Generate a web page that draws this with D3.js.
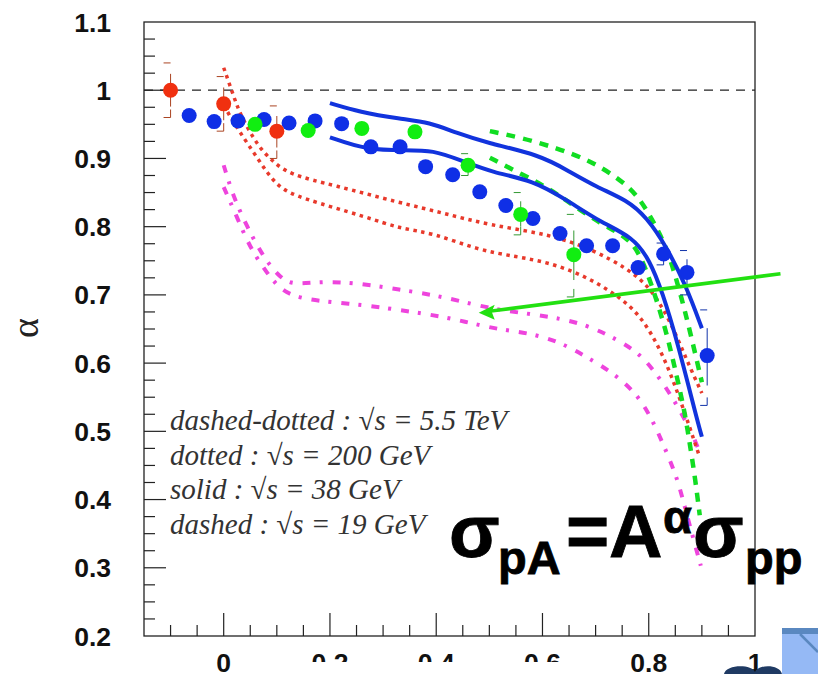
<!DOCTYPE html>
<html><head><meta charset="utf-8">
<script src="https://cdn.jsdelivr.net/npm/d3@7/dist/d3.min.js"></script>
<style>html,body{margin:0;background:#fff}svg{display:block}</style></head>
<body><svg id="c" width="818" height="674"></svg>
<script>
// ---- data ----
const xTickValues = [0, 0.2, 0.4, 0.6, 0.8, 1];
const yTickValues = [0.2, 0.3, 0.4, 0.5, 0.6, 0.7, 0.8, 0.9, 1, 1.1];
const yTickLabels = ["0.2","0.3","0.4","0.5","0.6","0.7","0.8","0.9","1","1.1"];
const xTickLabels = ["0","0.2","0.4","0.6","0.8","1"];

// points: [x, y, sysLow, sysHigh]
const redPoints = [[-0.1,1.0,0.96,1.04],[0,0.98,0.94,1.02],[0.1,0.94,0.90,0.977]];
const bluePoints = [[-0.065,0.963],[-0.018,0.954],[0.027,0.955],[0.076,0.957],[0.123,0.952],[0.172,0.955],[0.222,0.951],
 [0.277,0.917],[0.332,0.917],[0.38,0.888],[0.431,0.876],[0.482,0.851],[0.531,0.831],[0.582,0.812],[0.633,0.79],
 [0.683,0.772],[0.732,0.772],[0.78,0.74],[0.828,0.76,0.744,0.776],[0.872,0.733,0.70,0.765],[0.91,0.611,0.538,0.678]];
const greenPoints = [[0.059,0.95],[0.159,0.941],[0.26,0.944],[0.36,0.939],[0.46,0.89,0.875,0.907],[0.559,0.818,0.788,0.85],[0.659,0.759,0.697,0.818]];

const solidUpper = [[0.2,0.981],[0.256,0.968],[0.331,0.958],[0.388,0.953],[0.439,0.937],[0.495,0.923],[0.595,0.905],[0.646,0.883],[0.702,0.858],[0.759,0.839],[0.796,0.814],[0.834,0.77],[0.871,0.712],[0.9,0.651]];
const solidLower = [[0.2,0.931],[0.27,0.912],[0.345,0.912],[0.394,0.912],[0.444,0.898],[0.507,0.879],[0.582,0.868],[0.646,0.839],[0.708,0.807],[0.77,0.785],[0.802,0.751],[0.826,0.703],[0.853,0.634],[0.89,0.52],[0.9,0.492]];
const dashedUpper = [[0.501,0.94],[0.563,0.93],[0.627,0.915],[0.683,0.899],[0.732,0.877],[0.777,0.849],[0.807,0.81],[0.834,0.77],[0.858,0.707],[0.877,0.649],[0.9,0.572]];
const dashedLower = [[0.501,0.901],[0.563,0.876],[0.608,0.858],[0.657,0.832],[0.708,0.805],[0.759,0.785],[0.783,0.761],[0.807,0.712],[0.834,0.644],[0.853,0.58],[0.868,0.527],[0.877,0.483],[0.887,0.433],[0.896,0.377]];
const dottedUpper = [[0,1.033],[0.018,0.993],[0.031,0.964],[0.065,0.917],[0.093,0.895],[0.125,0.876],[0.206,0.861],[0.332,0.835],[0.413,0.82],[0.501,0.802],[0.614,0.789],[0.695,0.766],[0.759,0.739],[0.802,0.712],[0.84,0.663],[0.871,0.605],[0.9,0.556]];
const dottedLower = [[0,0.978],[0.027,0.942],[0.065,0.899],[0.1,0.858],[0.144,0.842],[0.27,0.814],[0.332,0.797],[0.394,0.791],[0.477,0.766],[0.552,0.756],[0.614,0.747],[0.676,0.729],[0.732,0.704],[0.783,0.673],[0.826,0.615],[0.858,0.55],[0.896,0.462]];
const dashDotUpper = [[0,0.89],[0.018,0.844],[0.044,0.8],[0.074,0.756],[0.106,0.725],[0.13,0.715],[0.175,0.719],[0.238,0.719],[0.337,0.707],[0.394,0.7],[0.45,0.69],[0.514,0.678],[0.619,0.668],[0.683,0.656],[0.732,0.638],[0.783,0.615],[0.821,0.578],[0.853,0.539],[0.881,0.498],[0.892,0.477]];
const dashDotLower = [[0,0.858],[0.025,0.814],[0.049,0.77],[0.081,0.732],[0.115,0.7],[0.175,0.691],[0.27,0.685],[0.345,0.676],[0.407,0.669],[0.463,0.659],[0.52,0.649],[0.576,0.644],[0.633,0.631],[0.683,0.609],[0.732,0.586],[0.777,0.556],[0.807,0.517],[0.83,0.476],[0.853,0.433],[0.868,0.389],[0.883,0.345],[0.898,0.303]];
const legendLines = [["dashed-dotted : ","s = 5.5 TeV"],["dotted : ","s = 200 GeV"],["solid : ","s = 38 GeV"],["dashed : ","s = 19 GeV"]];
const arrowData = [[1.048,0.731],[0.48,0.674]];

// ---- scales ----
const x = d3.scaleLinear().domain([-0.15,1]).range([144,755]);
const y = d3.scaleLinear().domain([0.2,1.1]).range([636,22]);
const svg = d3.select("#c");
const SANS = "'Liberation Sans',Arial,sans-serif";
const SERIF = "'Liberation Serif','Times New Roman',serif";

// frame
svg.append("rect").attr("x",x(-0.15)).attr("y",y(1.1)).attr("width",x(1)-x(-0.15)).attr("height",y(0.2)-y(1.1))
  .attr("fill","none").attr("stroke","#222").attr("stroke-width",1.3);

// ticks
const g = svg.append("g").attr("stroke","#222").attr("stroke-width",1.2);
d3.range(1,36).forEach(i=>{const v=0.2+i*0.025; const major=i%4===0;
  g.append("line").attr("x1",x(-0.15)).attr("x2",x(-0.15)+(major?22:11)).attr("y1",y(v)).attr("y2",y(v));});
d3.range(-2,20).forEach(i=>{const v=i*0.05; const major=i%4===0;
  g.append("line").attr("x1",x(v)).attr("x2",x(v)).attr("y1",y(0.2)).attr("y2",y(0.2)-(major?23:11));});

// y=1 dashed
svg.append("line").attr("x1",x(-0.15)).attr("x2",x(1)).attr("y1",y(1)).attr("y2",y(1))
  .attr("stroke","#222").attr("stroke-width",1.2).attr("stroke-dasharray","9 7");

// tick labels
yTickValues.forEach((v,i)=>svg.append("text").attr("x",111).attr("y",y(v)+9.5).attr("text-anchor","end")
  .attr("font-family",SANS).attr("font-weight","bold").attr("font-size",26.5).attr("fill","#111").text(yTickLabels[i]));
xTickValues.forEach((v,i)=>svg.append("text").attr("x",x(v)).attr("y",672).attr("text-anchor","middle")
  .attr("font-family",SANS).attr("font-weight","bold").attr("font-size",26.5).attr("fill","#111").text(xTickLabels[i]));
// crop of middle labels as in the source picture
svg.append("rect").attr("x",300).attr("y",662).attr("width",280).attr("height",12).attr("fill","#fff");

// axis title
svg.append("text").attr("transform","translate(38,328) rotate(-90)").attr("text-anchor","middle")
  .attr("font-family",SERIF).attr("font-size",38).attr("fill","#222").text("α");

// curves
const line = d3.line().x(d=>x(d[0])).y(d=>y(d[1])).curve(d3.curveBasis);
const curves = [
 [dashDotUpper,"#ee44dd",4,"8 9 3 10"],[dashDotLower,"#ee44dd",4,"8 9 3 10"],
 [dottedUpper,"#e8392b",3.5,"3.5 4.5"],[dottedLower,"#e8392b",3.5,"3.5 4.5"],
 [dashedUpper,"#11dd22",4.5,"9 8"],[dashedLower,"#11dd22",4.5,"9 8"],
 [solidUpper,"#1133dd",4,null],[solidLower,"#1133dd",4,null]];
curves.forEach(([d,c,w,da])=>svg.append("path").attr("d",line(d)).attr("fill","none").attr("stroke",c)
  .attr("stroke-width",w).attr("stroke-dasharray",da));

// points and error brackets
function drawPoints(data,color,bracket){
  data.forEach(d=>{
    if(d.length>2){
      const px=x(d[0]), py=y(d[1]), lo=y(d[2]), hi=y(d[3]);
      const b=svg.append("g").attr("stroke",bracket).attr("fill","none").attr("stroke-width",1);
      b.append("line").attr("x1",px-7).attr("x2",px).attr("y1",hi).attr("y2",hi);
      b.append("path").attr("d",`M${px-7},${lo}H${px}V${lo-8}`);
      b.append("line").attr("x1",px).attr("x2",px).attr("y1",py-(py-hi)*0.6).attr("y2",py+(lo-py)*0.6);
    }
  });
  svg.append("g").selectAll("circle").data(data).join("circle")
    .attr("cx",d=>x(d[0])).attr("cy",d=>y(d[1])).attr("r",7.5).attr("fill",color);
}
drawPoints(bluePoints,"#0f2fe6","#1133aa");
drawPoints(greenPoints,"#11ee11","#339933");
drawPoints(redPoints,"#f03010","#aa4422");

// arrow
const [a0,a1]=arrowData;
svg.append("line").attr("x1",x(a0[0])).attr("y1",y(a0[1])).attr("x2",x(a1[0])+8).attr("y2",y(a1[1])-1)
  .attr("stroke","#22e011").attr("stroke-width",3.5);
const tipX=x(a1[0]),tipY=y(a1[1]);
svg.append("path").attr("d",`M${tipX},${tipY}L${tipX+16},${tipY-8}L${tipX+13},${tipY-1}L${tipX+16},${tipY+7}Z`).attr("fill","#22e011");

// legend
legendLines.forEach((l,i)=>{
  const t=svg.append("text").attr("x",170).attr("y",430+i*34.5).attr("font-family",SERIF).attr("font-size",29)
    .attr("font-style","italic").attr("fill","#333");
  t.append("tspan").text(l[0]);
  t.append("tspan").attr("font-style","normal").text("√");
  t.append("tspan").text(l[1]);
});

// formula
const f=svg.append("text").attr("font-family",SANS).attr("font-weight","bold").attr("fill","#000").attr("stroke","#000").attr("stroke-width",0.8);
[["σ",449,557,74],["pA",498,574,47],["=",566,557,74],["A",609,557,74],["α",663,533,47],["σ",693,557,74],["pp",745,574,47]]
  .forEach(([s,tx,ty,fs])=>f.append("tspan").attr("x",tx).attr("y",ty).attr("font-size",fs).text(s));

// corner decoration
svg.append("rect").attr("x",782).attr("y",628).attr("width",36).attr("height",46).attr("fill","#95b9f5");
svg.append("rect").attr("x",782).attr("y",628).attr("width",36).attr("height",6).attr("fill","#5a88c0");
svg.append("path").attr("d","M800,634L818,652").attr("stroke","#5a88c0").attr("stroke-width",2.5);
svg.append("path").attr("d","M724,674C726,664 752,664 755,672C758,664 780,664 782,674Z").attr("fill","#1f3a63");
</script></body></html>
